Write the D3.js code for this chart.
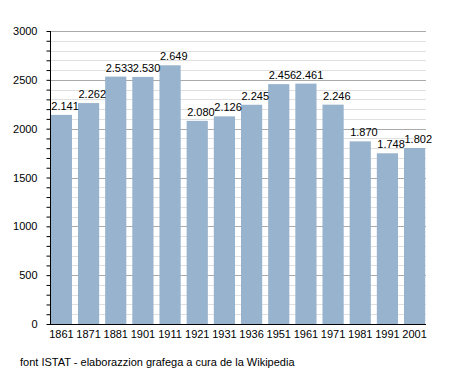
<!DOCTYPE html>
<html>
<head>
<meta charset="utf-8">
<script src="https://cdn.jsdelivr.net/npm/d3@7"></script>
<style>
  body { margin: 0; background: #fff; }
  text { font-family: "Liberation Sans", Arial, sans-serif; }
</style>
</head>
<body>
<div id="chart"></div>
<script>
const years = ['1861', '1871', '1881', '1901', '1911', '1921', '1931', '1936', '1951', '1961', '1971', '1981', '1991', '2001'];
const population = [2141, 2262, 2533, 2530, 2649, 2080, 2126, 2245, 2456, 2461, 2246, 1870, 1748, 1802];
const yTicks = [0, 500, 1000, 1500, 2000, 2500, 3000];
const footer = 'font ISTAT - elaborazzion grafega a cura de la Wikipedia';

const W = 455, H = 373;
const mLeft = 50, mRight = 426, mTop = 31, mBottom = 324;

const svg = d3.select('#chart').append('svg')
  .attr('width', W).attr('height', H);

const x = d3.scaleBand().domain(years).range([mLeft, mRight]).paddingInner(0.22).paddingOuter(0.03);
const y = d3.scaleLinear().domain([0, 3000]).range([mBottom, mTop]);

// minor grid every 100
const minor = d3.range(100, 3001, 100).filter(v => v % 500 !== 0);
svg.append('g').selectAll('line').data(minor).join('line')
  .attr('x1', mLeft).attr('x2', mRight)
  .attr('y1', d => Math.round(y(d)) + 0.5).attr('y2', d => Math.round(y(d)) + 0.5)
  .attr('stroke', '#e0e0e0').attr('stroke-width', 1);

svg.append('g').selectAll('line').data(yTicks.slice(1)).join('line')
  .attr('x1', mLeft).attr('x2', mRight)
  .attr('y1', d => Math.round(y(d)) + 0.5).attr('y2', d => Math.round(y(d)) + 0.5)
  .attr('stroke', '#aaaaaa').attr('stroke-width', 1);

// bars
svg.append('g').selectAll('rect').data(population).join('rect')
  .attr('x', (d, i) => x(years[i]))
  .attr('width', x.bandwidth())
  .attr('y', d => y(d))
  .attr('height', d => y(0) - y(d))
  .attr('fill', '#98b3cd');

// value labels
const fmt = d3.formatLocale({ decimal: ',', thousands: '.', grouping: [3], currency: ['', ''] }).format(',d');
svg.append('g').selectAll('text').data(population).join('text')
  .attr('x', (d, i) => x(years[i]) + 0.5)
  .attr('y', d => y(d) - 5)
  .attr('font-size', 11)
  .attr('fill', '#000')
  .text(d => fmt(d));

// y axis with minor ticks
const yAxis = svg.append('g').attr('transform', `translate(${mLeft + 0.5},0)`)
  .call(d3.axisLeft(y).tickValues(d3.range(0, 3001, 100)).tickSize(4)
    .tickFormat(d => d % 500 === 0 ? d : ''));
yAxis.select('.domain').attr('d', `M0,${mTop}V${mBottom}`);
yAxis.selectAll('text').attr('font-size', 11).attr('x', -13).style('font-family', '"Liberation Sans", Arial, sans-serif');
yAxis.selectAll('line').attr('stroke', '#000');

// x axis
const xAxis = svg.append('g').attr('transform', `translate(0,${mBottom + 0.5})`)
  .call(d3.axisBottom(x).tickSize(0).tickPadding(6));
xAxis.select('.domain').attr('d', `M${mLeft},0H${mRight}`);
xAxis.selectAll('text').attr('font-size', 11).style('font-family', '"Liberation Sans", Arial, sans-serif');

svg.append('text')
  .attr('x', 20).attr('y', 366)
  .attr('font-size', 11)
  .text(footer);
</script>
</body>
</html>
